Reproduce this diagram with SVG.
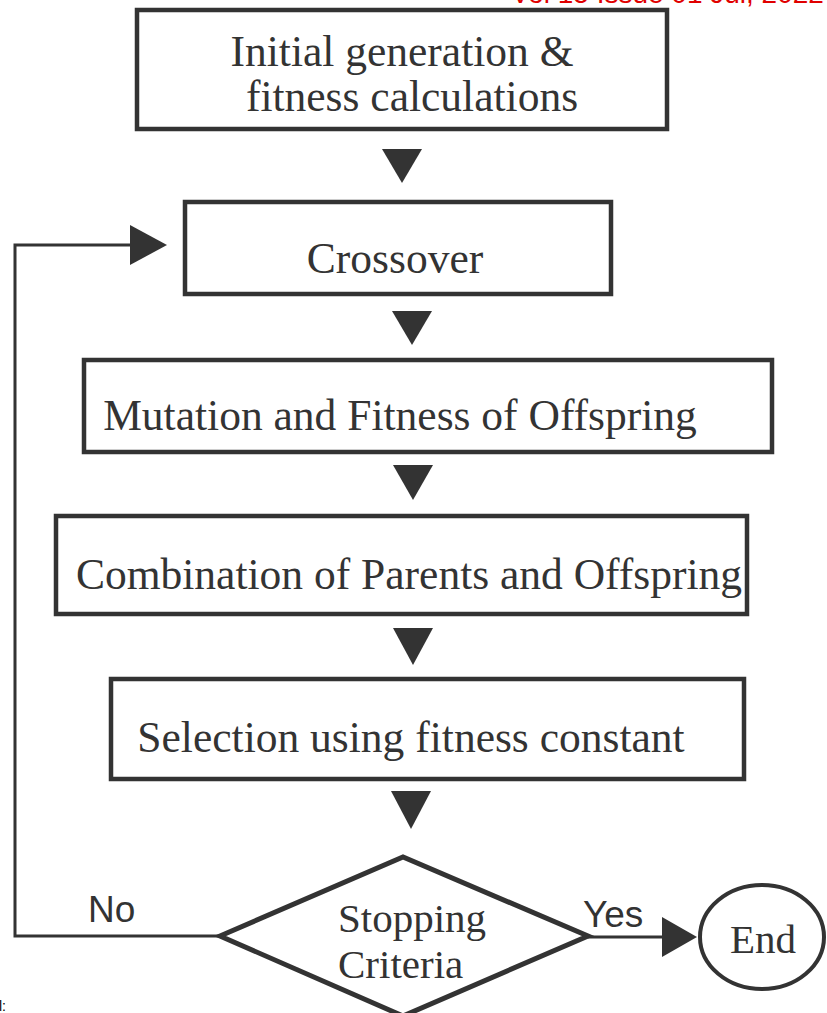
<svg xmlns="http://www.w3.org/2000/svg" width="827" height="1013" viewBox="0 0 827 1013">
<style>
.box{fill:#fff;stroke:#333;stroke-width:4.5}
.t{font-family:"Liberation Serif","Times New Roman",serif;font-size:43.5px;fill:#333;text-anchor:middle}
.s{font-family:"Liberation Sans",Arial,sans-serif;font-size:37px;fill:#333}
.ln{fill:none;stroke:#333;stroke-width:3}
.hd{fill:#333}
</style>
<rect width="827" height="1013" fill="#fff"/>
<text x="511" y="3" style="font-family:'Liberation Sans',Arial,sans-serif;font-size:28px;fill:#e00000">Vol 15 Issue 01 Jul, 2022</text>
<text x="-1" y="1011" style="font-family:'Liberation Sans',Arial,sans-serif;font-size:14px;fill:#000">l:</text>
<g id="connectors">
<polygon class="hd" points="382,149 422,149 402,183"/>
<polygon class="hd" points="392,311 432,311 412,345"/>
<polygon class="hd" points="393,465 433,465 413,500"/>
<polygon class="hd" points="393,628 433,628 413,665"/>
<polygon class="hd" points="391,791 431,791 411,829"/>
<polyline class="ln" points="220,936 15,936 15,245 132,245"/>
<polygon class="hd" points="130,225 167,245 130,265"/>
<line class="ln" x1="588" y1="937" x2="664" y2="937"/>
<polygon class="hd" points="662,917 697,937 662,957"/>
<text class="s" x="88" y="922">No</text>
<text class="s" x="583" y="927">Yes</text>
</g>
<g id="n1">
<rect class="box" x="137" y="10" width="530" height="119"/>
<text class="t" x="402" y="66">Initial generation &amp;</text>
<text class="t" x="412" y="111">fitness calculations</text>
</g>
<g id="n2">
<rect class="box" x="185" y="202" width="426" height="92"/>
<text class="t" x="395" y="273">Crossover</text>
</g>
<g id="n3">
<rect class="box" x="84" y="360" width="688" height="92"/>
<text class="t" x="400" y="430">Mutation and Fitness of Offspring</text>
</g>
<g id="n4">
<rect class="box" x="56" y="516" width="691" height="98"/>
<text class="t" x="409" y="589">Combination of Parents and Offspring</text>
</g>
<g id="n5">
<rect class="box" x="111" y="679" width="633" height="100"/>
<text class="t" x="411" y="752">Selection using fitness constant</text>
</g>
<g id="n6">
<polygon points="220,936 403,857 588,936 403,1016" fill="#fff" stroke="#333" stroke-width="5" stroke-linejoin="miter"/>
<text class="t" x="338" y="932" style="text-anchor:start;font-size:41px">Stopping</text>
<text class="t" x="338" y="978" style="text-anchor:start;font-size:41px">Criteria</text>
</g>
<g id="n7">
<ellipse cx="762" cy="937" rx="62" ry="52" fill="#fff" stroke="#333" stroke-width="4"/>
<text class="t" x="763" y="953" style="font-size:41px">End</text>
</g>
</svg>
